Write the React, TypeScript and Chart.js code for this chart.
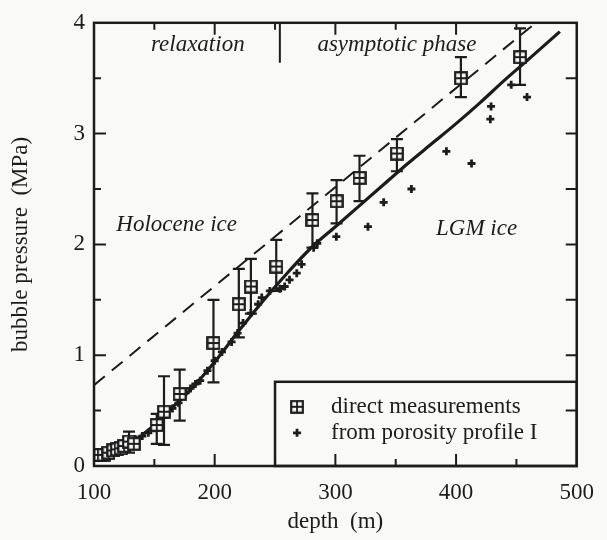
import React, { useEffect, useRef } from "react";
import { Chart, registerables } from "chart.js";
Chart.register(...registerables);

const SERIF = "'Liberation Serif', 'Times New Roman', Times, serif";
const INK = "#1c1c1c";
const BG = "#f9f9f7";

const xTickValues = [100, 200, 300, 400, 500];
const yTickValues = [0, 1, 2, 3, 4];

// direct measurements (square markers with error bars)
const measDepth = [102, 105, 108, 112, 116, 119, 122, 125, 129, 133, 152, 158, 171, 199, 220, 230, 251, 281, 301, 320, 351, 404, 453];
const measPressure = [0.1, 0.1, 0.1, 0.12, 0.14, 0.15, 0.16, 0.18, 0.22, 0.2, 0.37, 0.49, 0.65, 1.11, 1.46, 1.62, 1.8, 2.22, 2.39, 2.6, 2.82, 3.5, 3.69];
const measErrLow: (number | null)[] = [null, null, null, null, null, null, null, null, 0.12, null, 0.2, 0.19, 0.41, 0.755, 1.16, 1.375, 1.58, 1.97, 2.19, 2.39, 2.66, 3.33, 3.44];
const measErrHigh: (number | null)[] = [null, null, null, null, null, null, null, null, 0.31, null, 0.47, 0.81, 0.87, 1.5, 1.78, 1.87, 2.04, 2.46, 2.58, 2.8, 2.95, 3.69, 3.95];

// from porosity profile I (plus markers)
const poroDepth = [100, 103, 106, 109, 112, 115, 118, 121, 125, 130, 135, 140, 145, 150, 155, 160, 165, 170, 176, 180, 184, 188, 194, 200, 206, 214, 219, 223.5, 230, 236, 239, 245.7, 254, 258, 262, 268, 272, 282, 285, 300.8, 327, 340, 363, 392, 412.8, 428.4, 429, 445.7, 458.8];
const poroPressure = [0.08, 0.09, 0.09, 0.1, 0.11, 0.12, 0.13, 0.14, 0.17, 0.2, 0.24, 0.27, 0.3, 0.34, 0.4, 0.46, 0.52, 0.57, 0.66, 0.7, 0.74, 0.77, 0.86, 0.95, 1.03, 1.12, 1.2, 1.29, 1.38, 1.46, 1.52, 1.58, 1.6, 1.62, 1.68, 1.74, 1.82, 1.97, 2.01, 2.07, 2.16, 2.38, 2.5, 2.84, 2.73, 3.13, 3.245, 3.44, 3.33];

// solid model curve
const modelDepth = [100, 110, 120, 130, 140, 150, 160, 170, 180, 190, 200, 220, 240, 260, 280, 300, 320, 340, 360, 380, 400, 420, 440, 460, 486];
const modelPressure = [0.07, 0.1, 0.14, 0.2, 0.28, 0.37, 0.48, 0.58, 0.69, 0.81, 0.94, 1.22, 1.49, 1.74, 1.97, 2.16, 2.35, 2.54, 2.73, 2.91, 3.09, 3.28, 3.48, 3.67, 3.92];

// dashed curve
const dashDepth = [100, 466];
const dashPressure = [0.73, 4.0];

const annotationTexts = ["relaxation", "asymptotic phase", "Holocene ice", "LGM ice"];
const legendLabels = ["direct measurements", "from porosity profile I"];

function boxMarker(): HTMLCanvasElement {
  const s = 14;
  const c = document.createElement("canvas");
  c.width = s;
  c.height = s;
  const g = c.getContext("2d")!;
  g.fillStyle = BG;
  g.fillRect(1, 1, s - 2, s - 2);
  g.strokeStyle = INK;
  g.lineWidth = 2.2;
  g.strokeRect(1.2, 1.2, s - 2.4, s - 2.4);
  g.beginPath();
  g.moveTo(s / 2, 2);
  g.lineTo(s / 2, s - 2);
  g.moveTo(2, s / 2);
  g.lineTo(s - 2, s / 2);
  g.lineWidth = 1.8;
  g.stroke();
  return c;
}

export default function App() {
  const ref = useRef<HTMLCanvasElement>(null);

  useEffect(() => {
    const canvas = ref.current!;
    const marker = boxMarker();

    const decor = {
      id: "decor",
      beforeDraw(chart: any) {
        const ctx = chart.ctx;
        ctx.save();
        ctx.fillStyle = BG;
        ctx.fillRect(0, 0, chart.width, chart.height);
        ctx.restore();
      },
      beforeDatasetsDraw(chart: any) {
        const ctx = chart.ctx;
        const xs = chart.scales.x;
        const ys = chart.scales.y;
        ctx.save();
        ctx.strokeStyle = INK;
        ctx.lineWidth = 2.2;
        for (let i = 0; i < measDepth.length; i++) {
          const lo = measErrLow[i];
          const hi = measErrHigh[i];
          if (lo == null || hi == null) continue;
          const x = xs.getPixelForValue(measDepth[i]);
          const y1 = ys.getPixelForValue(lo);
          const y2 = ys.getPixelForValue(hi);
          ctx.beginPath();
          ctx.moveTo(x, y1);
          ctx.lineTo(x, y2);
          ctx.moveTo(x - 6, y1);
          ctx.lineTo(x + 6, y1);
          ctx.moveTo(x - 6, y2);
          ctx.lineTo(x + 6, y2);
          ctx.stroke();
        }
        ctx.restore();
      },
      afterDraw(chart: any) {
        const ctx = chart.ctx;
        const xs = chart.scales.x;
        const ys = chart.scales.y;
        const a = chart.chartArea;
        ctx.save();

        // legend box
        const lx = xs.getPixelForValue(250);
        const ly = ys.getPixelForValue(0.76);
        ctx.fillStyle = BG;
        ctx.fillRect(lx, ly, a.right - lx, a.bottom - ly);
        ctx.strokeStyle = INK;
        ctx.lineWidth = 2.5;
        ctx.strokeRect(lx, ly, a.right - lx, a.bottom - ly);
        const r1 = ly + 25;
        const r2 = ly + 51;
        ctx.drawImage(marker, lx + 22 - marker.width / 2, r1 - marker.height / 2);
        ctx.lineWidth = 2.8;
        ctx.beginPath();
        ctx.moveTo(lx + 18, r2);
        ctx.lineTo(lx + 26, r2);
        ctx.moveTo(lx + 22, r2 - 4);
        ctx.lineTo(lx + 22, r2 + 4);
        ctx.stroke();
        ctx.fillStyle = INK;
        ctx.font = `23px ${SERIF}`;
        ctx.textAlign = "left";
        ctx.textBaseline = "middle";
        ctx.fillText(legendLabels[0], lx + 56, r1);
        ctx.fillText(legendLabels[1], lx + 56, r2);

        // frame
        ctx.lineWidth = 2.5;
        ctx.strokeRect(a.left, a.top, a.right - a.left, a.bottom - a.top);

        // inward ticks
        ctx.lineWidth = 2;
        ctx.beginPath();
        for (let v = 150; v < 500; v += 50) {
          const x = xs.getPixelForValue(v);
          const len = v % 100 === 0 ? 12 : 7;
          ctx.moveTo(x, a.bottom);
          ctx.lineTo(x, a.bottom - len);
          ctx.moveTo(x, a.top);
          ctx.lineTo(x, a.top + len);
        }
        for (let v = 0.5; v < 4; v += 0.5) {
          const y = ys.getPixelForValue(v);
          const len = Math.abs(v - Math.round(v)) < 1e-6 ? 12 : 7;
          ctx.moveTo(a.left, y);
          ctx.lineTo(a.left + len, y);
          ctx.moveTo(a.right, y);
          ctx.lineTo(a.right - 11, y);
        }
        // phase divider
        const dx = xs.getPixelForValue(254);
        ctx.moveTo(dx, a.top);
        ctx.lineTo(dx, ys.getPixelForValue(3.64));
        ctx.stroke();

        // annotations
        ctx.font = `italic 23px ${SERIF}`;
        ctx.textAlign = "center";
        ctx.textBaseline = "middle";
        ctx.fillText(annotationTexts[0], xs.getPixelForValue(186), ys.getPixelForValue(3.8));
        ctx.fillText(annotationTexts[1], xs.getPixelForValue(351), ys.getPixelForValue(3.8));
        ctx.fillText(annotationTexts[2], xs.getPixelForValue(168.5), ys.getPixelForValue(2.18));
        ctx.fillText(annotationTexts[3], xs.getPixelForValue(417), ys.getPixelForValue(2.14));
        ctx.restore();
      },
    };

    const chart = new Chart(canvas, {
      type: "scatter",
      data: {
        datasets: [
          {
            label: legendLabels[1],
            data: poroDepth.map((d, i) => ({ x: d, y: poroPressure[i] })),
            pointStyle: "cross",
            pointRadius: 4,
            borderWidth: 2.8,
            borderColor: INK,
            backgroundColor: INK,
            showLine: false,
            order: 3,
          },
          {
            label: "model",
            data: modelDepth.map((d, i) => ({ x: d, y: modelPressure[i] })),
            showLine: true,
            borderColor: INK,
            borderWidth: 3.2,
            pointRadius: 0,
            cubicInterpolationMode: "monotone",
            order: 2,
          },
          {
            label: "dashed",
            data: dashDepth.map((d, i) => ({ x: d, y: dashPressure[i] })),
            showLine: true,
            borderColor: INK,
            borderWidth: 2,
            borderDash: [14, 9],
            pointRadius: 0,
            order: 2,
          },
          {
            label: legendLabels[0],
            data: measDepth.map((d, i) => ({ x: d, y: measPressure[i] })),
            pointStyle: marker,
            pointRadius: 7,
            borderColor: INK,
            showLine: false,
            order: 1,
          },
        ],
      } as any,
      options: {
        responsive: false,
        animation: false,
        events: [],
        layout: { padding: { left: 0, top: 20, right: 28, bottom: 0 } },
        plugins: { legend: { display: false }, tooltip: { enabled: false } },
        scales: {
          x: {
            type: "linear",
            min: 100,
            max: 500,
            grid: { display: false, drawTicks: false },
            border: { display: false },
            afterBuildTicks: (s: any) => {
              s.ticks = xTickValues.map((v) => ({ value: v }));
            },
            afterFit: (s: any) => {
              s.height = 74;
            },
            ticks: { color: INK, font: { family: SERIF, size: 23 }, padding: 13, maxRotation: 0, autoSkip: false },
            title: { display: true, text: "depth  (m)", color: INK, font: { family: SERIF, size: 23 }, padding: { top: 0, bottom: 4 } },
          },
          y: {
            type: "linear",
            min: 0,
            max: 4,
            grid: { display: false, drawTicks: false },
            border: { display: false },
            afterBuildTicks: (s: any) => {
              s.ticks = yTickValues.map((v) => ({ value: v }));
            },
            afterFit: (s: any) => {
              s.width = 94;
            },
            ticks: { color: INK, font: { family: SERIF, size: 23 }, padding: 9 },
            title: { display: true, text: "bubble pressure  (MPa)", color: INK, font: { family: SERIF, size: 23 }, padding: { top: 7, bottom: 0 } },
          },
        },
      } as any,
      plugins: [decor],
    });
    return () => chart.destroy();
  }, []);

  return (
    <div style={{ position: "fixed", left: 0, top: 0, width: 607, height: 540 }}>
      <canvas ref={ref} width={607} height={540} style={{ display: "block" }} />
    </div>
  );
}
